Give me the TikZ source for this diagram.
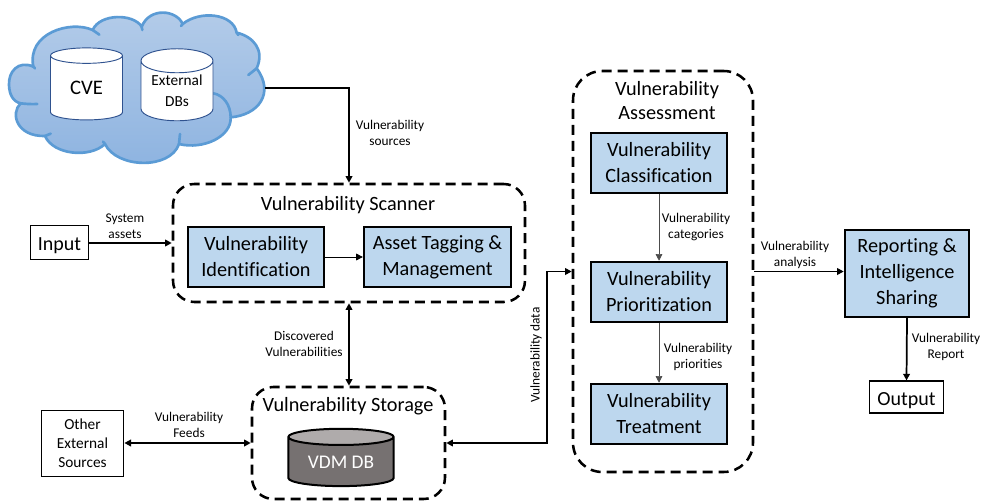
\documentclass[tikz,border=0pt]{standalone}
\usepackage{fontspec}
\setmainfont{Carlito}[Ligatures=NoCommon]
\usetikzlibrary{arrows.meta,shapes.geometric,calc}
\definecolor{boxblue}{HTML}{BDD7EE}
\definecolor{cloudedge}{HTML}{5B9BD5}
\definecolor{cloudtop}{HTML}{B4CCE9}
\definecolor{cloudbot}{HTML}{8DB3E0}
\definecolor{dbgrey}{HTML}{767171}
\definecolor{dbtop}{HTML}{AFABAB}
\definecolor{dbnavy}{HTML}{2F528F}
\tikzset{
  bluebox/.style={draw=black,fill=boxblue,line width=1.9pt,align=center,font=\fontsize{15.2}{19.5}\selectfont,inner sep=0pt},
  plainbox/.style={draw=black,line width=0.8pt,fill=white,align=center,inner sep=0pt},
  dashbox/.style={draw=black,line width=1.9pt,dash pattern=on 7.5pt off 4.5pt,inner sep=0pt},
  title/.style={align=center,inner sep=0pt,font=\fontsize{15.2}{18}\selectfont},
  small/.style={align=center,inner sep=0pt,font=\fontsize{10}{12}\selectfont},
  conn/.style={line width=1.3pt,-{Triangle[length=5pt,width=5pt]}},
  dconn/.style={line width=1.3pt,{Triangle[length=5pt,width=5pt]}-{Triangle[length=5pt,width=5pt]}},
  thin conn/.style={line width=0.5pt,-{Triangle[length=5pt,width=5pt]}},
  db/.style={cylinder,shape border rotate=90,aspect=0.47,draw,cylinder uses custom fill,align=center,inner sep=0pt},
}
\begin{document}
\begin{tikzpicture}[x=0.75pt,y=-0.75pt]
\useasboundingbox (0,0) rectangle (981,503);
% cloud
\begin{scope}[x=0.25pt,y=-0.25pt]
\path[top color=cloudtop,bottom color=cloudbot,draw=cloudedge,line width=2pt,line join=round]
 (100,200) .. controls (55,180) and (25,215) .. (27,255)
 .. controls (28,285) and (40,305) .. (62,310)
 .. controls (30,340) and (50,410) .. (135,408)
 .. controls (160,465) and (270,475) .. (315,432)
 .. controls (350,505) and (510,510) .. (537,432)
 .. controls (610,450) and (695,410) .. (692,352)
 .. controls (775,345) and (825,280) .. (770,205)
 .. controls (795,150) and (760,110) .. (710,98)
 .. controls (700,40) and (600,30) .. (548,72)
 .. controls (530,30) and (450,20) .. (425,80)
 .. controls (400,40) and (300,40) .. (278,90)
 .. controls (210,60) and (80,100) .. (100,200) -- cycle;
\draw[cloudedge,line width=2pt,line cap=round]
 (100,200) -- (105,205)
 (62,310) .. controls (80,312) and (95,313) .. (112,312)
 (135,408) -- (152,401)
 (315,432) -- (309,425)
 (537,432) -- (540,402)
 (640,280) .. controls (670,285) and (692,315) .. (692,352)
 (770,205) -- (745,225)
 (710,98) -- (715,105)
 (548,72) -- (543,78)
 (425,80) -- (427,90)
 (278,90) -- (298,104);
\end{scope}
\node[db,draw=dbnavy,line width=0.7pt,cylinder end fill=white,cylinder body fill=white,minimum width=54pt,minimum height=54pt,font=\fontsize{15.5}{19}\selectfont] (cve) at (86.5,88) {CVE};
\node[db,draw=dbnavy,line width=0.7pt,cylinder end fill=white,cylinder body fill=white,minimum width=54pt,minimum height=54pt,font=\fontsize{11.5}{15.5}\selectfont] (ext) at (177,91) {External\\DBs};
\coordinate (cloudout) at (265,88);
% containers
\node[dashbox,rounded corners=16pt,minimum width=264pt,minimum height=88.5pt] (scanner) at (349,243) {};
\node[dashbox,rounded corners=22pt,minimum width=135pt,minimum height=300.75pt] (assess) at (663,271.5) {};
\node[dashbox,rounded corners=16pt,minimum width=144.75pt,minimum height=84pt] (storage) at (348.5,443) {};
\node[title] (tscan) at (348,205.5) {Vulnerability Scanner};
\node[title] (tstore) at (348,406.5) {Vulnerability Storage};
\node[title] (tassess) at (667,101) {Vulnerability\\Assessment};
% blue boxes
\node[bluebox,minimum width=102pt,minimum height=45pt] (vid) at (256,257) {Vulnerability\\Identification};
\node[bluebox,minimum width=110pt,minimum height=45pt] (tag) at (437.5,257) {Asset Tagging \&\\Management};
\node[bluebox,minimum width=102pt,minimum height=45pt] (cls) at (659,163) {Vulnerability\\Classification};
\node[bluebox,minimum width=102pt,minimum height=45pt] (pri) at (659,292) {Vulnerability\\Prioritization};
\node[bluebox,minimum width=102pt,minimum height=45pt] (tre) at (659,414) {Vulnerability\\Treatment};
\node[bluebox,minimum width=93pt,minimum height=65pt] (rep) at (907,273.5) {Reporting \&\\Intelligence\\Sharing};
% plain boxes
\node[plainbox,minimum width=44pt,minimum height=25pt,text height=12.6pt,text depth=0pt,font=\fontsize{15}{18}\selectfont] (input) at (59.5,242.5) {Input};
\node[plainbox,minimum width=56pt,minimum height=24pt,text height=13pt,text depth=0pt,font=\fontsize{15}{18}\selectfont] (output) at (906.5,397) {Output};
\node[plainbox,minimum width=62pt,minimum height=49pt,font=\fontsize{11.5}{14.3}\selectfont] (other) at (82.5,443.5) {Other\\External\\Sources};
% db
\node[db,draw=black,line width=1.5pt,aspect=0.245,cylinder end fill=dbtop,cylinder body fill=dbgrey,text=white,minimum width=79pt,minimum height=43pt,font=\fontsize{14.5}{18}\selectfont] (vdm) at (341,462) {VDM DB};
% connectors
\draw[conn] (cloudout) -| (scanner.north);
\draw[conn] (input.east |- scanner.west) -- (scanner.west);
\draw[thin conn] (vid.east) -- (tag.west);
\draw[dconn] (scanner.south) -- (storage.north -| scanner.south);
\draw[dconn] (other.east |- storage.west) -- (storage.west);
\coordinate (bend) at (547,443);
\draw[dconn] (storage.east) -- (bend) |- (assess.west);
\draw[thin conn,black!70] (cls.south) -- (pri.north);
\draw[thin conn,black!70] (pri.south) -- (tre.north);
\draw[conn] (assess.east) -- (assess.east -| rep.west);
\draw[conn] (rep.south) -- (output.north);
% labels
\node[small] (l1) at (390,133) {Vulnerability\\sources};
\node[small] (l2) at (125,226) {System\\assets};
\node[small] (l3) at (304,344) {Discovered\\Vulnerabilities};
\node[small] (l4) at (189,425) {Vulnerability\\Feeds};
\node[small,rotate=90] (l5) at (536,355) {Vulnerability data};
\node[small] (l6) at (696,227) {Vulnerability\\categories};
\node[small] (l7) at (698,357) {Vulnerability\\priorities};
\node[small] (l8) at (795,255) {Vulnerability\\analysis};
\node[small] (l9) at (946,347) {Vulnerability\\Report};
\end{tikzpicture}
\end{document}
